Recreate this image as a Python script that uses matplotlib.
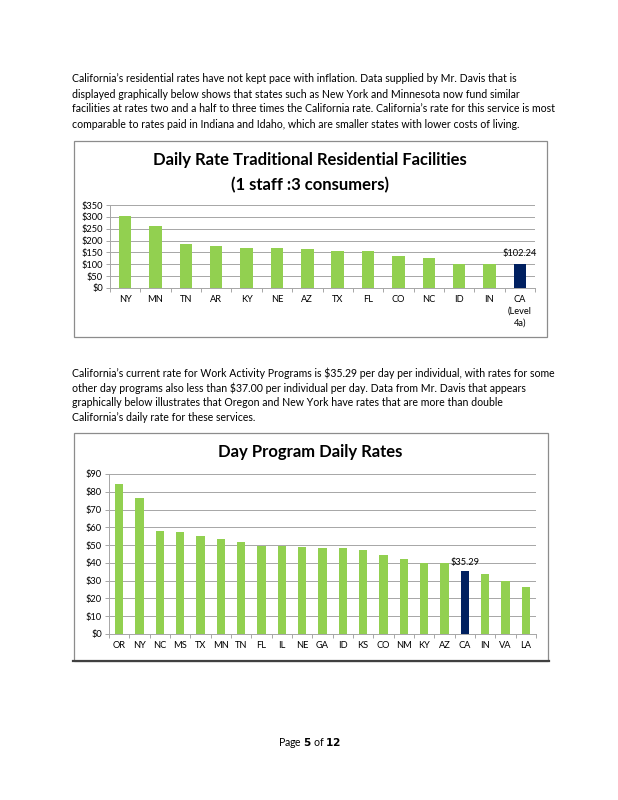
import matplotlib
matplotlib.use("Agg")
import matplotlib.pyplot as plt
from matplotlib.patches import Rectangle
from matplotlib.lines import Line2D

# ---------------- data ----------------
res_states = ["NY", "MN", "TN", "AR", "KY", "NE", "AZ", "TX", "FL", "CO", "NC", "ID", "IN", "CA\n(Level\n4a)"]
res_rates = [305, 263, 185, 178, 170, 168, 165, 155, 155, 134, 127, 103, 103, 102.24]
res_yticks = [0, 50, 100, 150, 200, 250, 300, 350]
res_ylabels = ["$0", "$50", "$100", "$150", "$200", "$250", "$300", "$350"]
res_highlight = "CA\n(Level\n4a)"
res_label = "$102.24"

day_states = ["OR", "NY", "NC", "MS", "TX", "MN", "TN", "FL", "IL", "NE", "GA", "ID", "KS", "CO",
              "NM", "KY", "AZ", "CA", "IN", "VA", "LA"]
day_rates = [84.5, 76.6, 58.2, 57.1, 55.3, 53.4, 51.7, 49.4, 49.4, 48.8, 48.6, 48.4, 47.3, 44.3,
             42.4, 40.0, 40.0, 35.29, 34.0, 29.8, 26.6]
day_yticks = [0, 10, 20, 30, 40, 50, 60, 70, 80, 90]
day_ylabels = ["$0", "$10", "$20", "$30", "$40", "$50", "$60", "$70", "$80", "$90"]
day_highlight = "CA"
day_label = "$35.29"

para1 = [
    "California\u2019s residential rates have not kept pace with inflation. Data supplied by Mr. Davis that is",
    "displayed graphically below shows that states such as New York and Minnesota now fund similar",
    "facilities at rates two and a half to three times the California rate. California\u2019s rate for this service is most",
    "comparable to rates paid in Indiana and Idaho, which are smaller states with lower costs of living.",
]
para2 = [
    "California\u2019s current rate for Work Activity Programs is $35.29 per day per individual, with rates for some",
    "other day programs also less than $37.00 per individual per day. Data from Mr. Davis that appears",
    "graphically below illustrates that Oregon and New York have rates that are more than double",
    "California\u2019s daily rate for these services.",
]

GREEN = "#92D050"
NAVY = "#002060"
GRID = "#A6A6A6"
FONT = ["Lato", "DejaVu Sans"]

W, H = 618, 800
fig = plt.figure(figsize=(W / 100, H / 100), dpi=100)
fig.patch.set_facecolor("white")


def fx(x):
    return x / W


def fy(y):
    return 1 - y / H


def ax_rect(x0, y0, x1, y1):
    return [fx(x0), fy(y1), fx(x1) - fx(x0), fy(y0) - fy(y1)]


# paragraphs
for i, line in enumerate(para1):
    fig.text(fx(72), fy(79 + i * 15), line, fontsize=7.6, family=FONT, va="center", ha="left", color="black")
for i, line in enumerate(para2):
    fig.text(fx(72), fy(373 + i * 14.8), line, fontsize=7.6, family=FONT, va="center", ha="left", color="black")

# chart boxes
fig.add_artist(Rectangle((fx(74), fy(337)), fx(547) - fx(74), fy(141) - fy(337),
                         transform=fig.transFigure, fill=False, edgecolor="#8C8C8C", linewidth=0.9))
fig.add_artist(Rectangle((fx(74), fy(661)), fx(548) - fx(74), fy(433) - fy(661),
                         transform=fig.transFigure, fill=False, edgecolor="#8C8C8C", linewidth=0.9))
fig.add_artist(Line2D([fx(73), fx(549)], [fy(661), fy(661)], transform=fig.transFigure,
                      color="#404040", linewidth=1.6))

# titles
fig.text(fx(310), fy(160), "Daily Rate Traditional Residential Facilities", fontsize=12,
         fontweight="bold", family=FONT, ha="center", va="center")
fig.text(fx(310), fy(185), "(1 staff :3 consumers)", fontsize=12,
         fontweight="bold", family=FONT, ha="center", va="center")
fig.text(fx(310), fy(452), "Day Program Daily Rates", fontsize=12,
         fontweight="bold", family=FONT, ha="center", va="center")


def style_axes(ax, cats, yticks, ylabels):
    n = len(cats)
    ax.set_xlim(-0.5, n - 0.5)
    ax.set_ylim(yticks[0], yticks[-1])
    ax.set_yticks(yticks)
    ax.set_yticklabels(ylabels, family=FONT, fontsize=6.7)
    ax.set_xticks(range(n))
    ax.set_xticklabels(cats, family=FONT, fontsize=6.7, linespacing=1.4)
    ax.tick_params(axis="x", length=0, pad=5)
    ax.tick_params(axis="y", length=3, color=GRID, width=0.7, pad=2)
    ax.set_xticks([i - 0.5 for i in range(n + 1)], minor=True)
    ax.tick_params(axis="x", which="minor", length=3, color=GRID, width=0.7, direction="out")
    for s in ["top", "right"]:
        ax.spines[s].set_visible(False)
    ax.spines["left"].set_color(GRID)
    ax.spines["bottom"].set_color(GRID)
    ax.spines["left"].set_linewidth(0.7)
    ax.spines["bottom"].set_linewidth(0.7)
    ax.yaxis.grid(True, color=GRID, linewidth=0.7)
    ax.set_axisbelow(True)
    ax.set_facecolor("none")


# chart 1
ax1 = fig.add_axes(ax_rect(110, 205, 535, 288))
cols1 = [NAVY if c == res_highlight else GREEN for c in res_states]
ax1.bar(range(len(res_states)), res_rates, width=0.41, color=cols1, zorder=2)
style_axes(ax1, res_states, res_yticks, res_ylabels)
hi = res_states.index(res_highlight)
ax1.annotate(res_label, (hi, res_rates[hi]), xytext=(0, 4), textcoords="offset points",
             ha="center", va="bottom", fontsize=6.7, family=FONT)

# chart 2
ax2 = fig.add_axes(ax_rect(109, 474, 536, 634))
cols2 = [NAVY if c == day_highlight else GREEN for c in day_states]
ax2.bar(range(len(day_states)), day_rates, width=0.41, color=cols2, zorder=2)
style_axes(ax2, day_states, day_yticks, day_ylabels)
hi2 = day_states.index(day_highlight)
ax2.annotate(day_label, (hi2, day_rates[hi2]), xytext=(0, 3), textcoords="offset points",
             ha="center", va="bottom", fontsize=6.7, family=FONT)

# footer
fig.text(fx(310), fy(743), "Page $\\bf{5}$ of $\\bf{12}$", fontsize=7.6, family=FONT, ha="center", va="center")

fig.savefig("out.png", dpi=100)
